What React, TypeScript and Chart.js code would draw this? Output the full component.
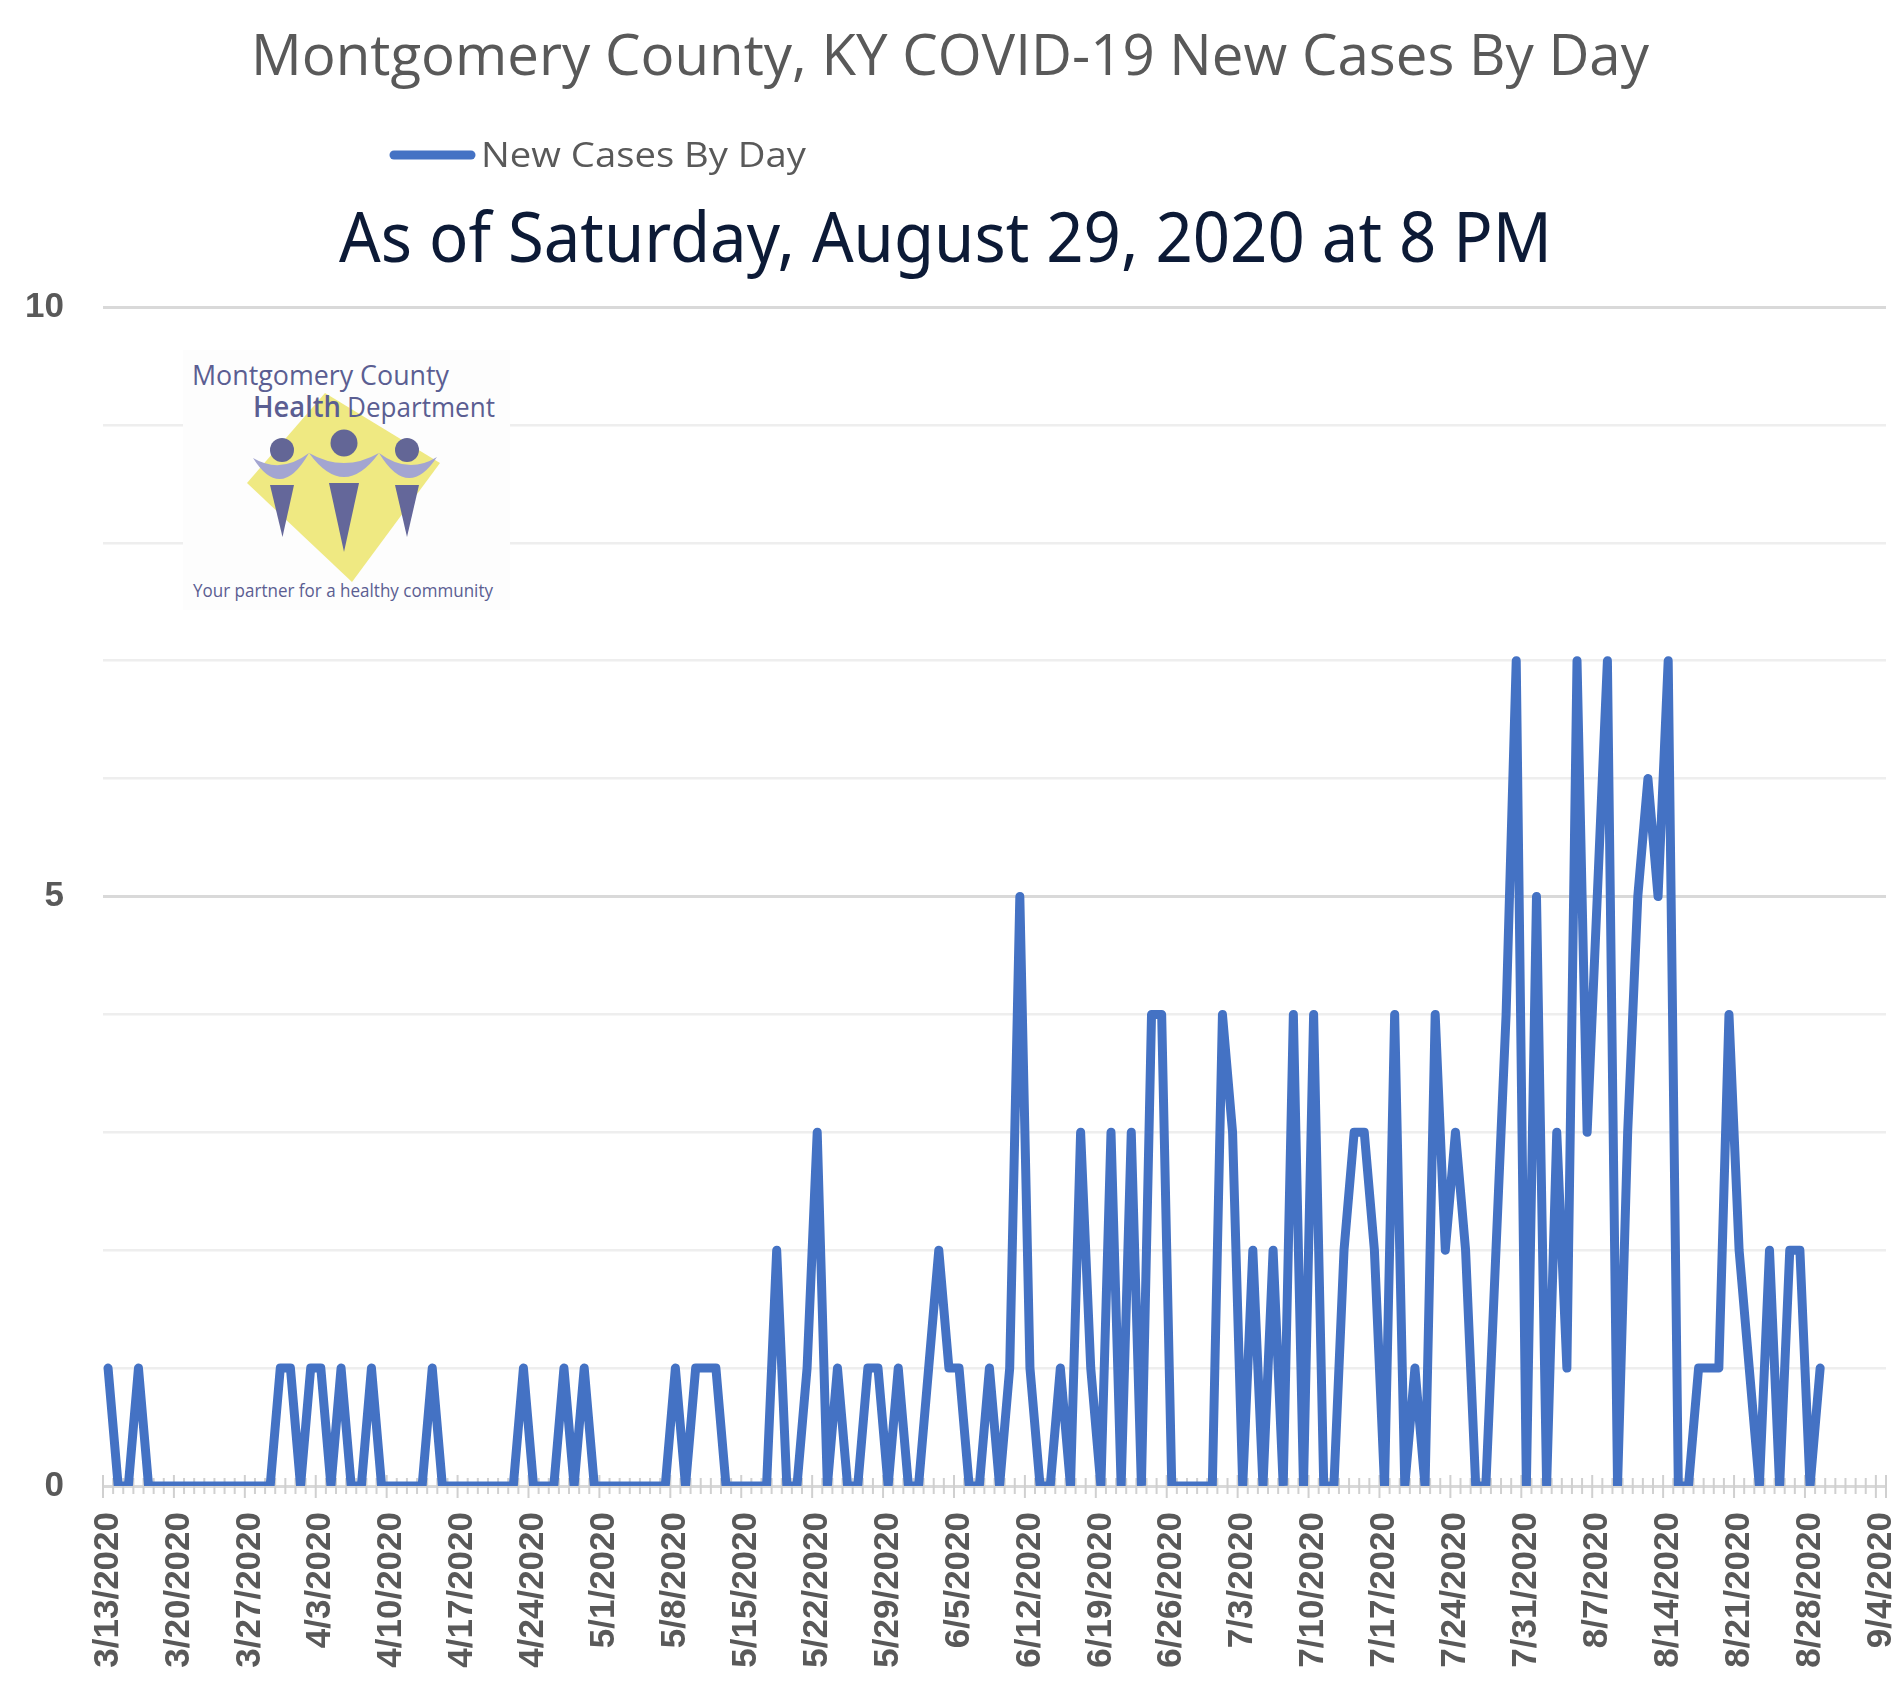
import { useEffect, useRef } from "react";
import { Chart, registerables } from "chart.js";
import type { Plugin } from "chart.js";

Chart.register(...registerables);

// one category per day, 3/13/2020 through 9/4/2020
const dayCount = 176;

const weekLabels = [
  "3/13/2020", "3/20/2020", "3/27/2020", "4/3/2020", "4/10/2020", "4/17/2020",
  "4/24/2020", "5/1/2020", "5/8/2020", "5/15/2020", "5/22/2020", "5/29/2020",
  "6/5/2020", "6/12/2020", "6/19/2020", "6/26/2020", "7/3/2020", "7/10/2020",
  "7/17/2020", "7/24/2020", "7/31/2020", "8/7/2020", "8/14/2020", "8/21/2020",
  "8/28/2020", "9/4/2020",
];

// new cases per day, 3/13/2020 .. 8/29/2020
const newCases = [
  1, 0, 0, 1, 0, 0, 0, 0, 0, 0,
  0, 0, 0, 0, 0, 0, 0, 1, 1, 0,
  1, 1, 0, 1, 0, 0, 1, 0, 0, 0,
  0, 0, 1, 0, 0, 0, 0, 0, 0, 0,
  0, 1, 0, 0, 0, 1, 0, 1, 0, 0,
  0, 0, 0, 0, 0, 0, 1, 0, 1, 1,
  1, 0, 0, 0, 0, 0, 2, 0, 0, 1,
  3, 0, 1, 0, 0, 1, 1, 0, 1, 0,
  0, 1, 2, 1, 1, 0, 0, 1, 0, 1,
  5, 1, 0, 0, 1, 0, 3, 1, 0, 3,
  0, 3, 0, 4, 4, 0, 0, 0, 0, 0,
  4, 3, 0, 2, 0, 2, 0, 4, 0, 4,
  0, 0, 2, 3, 3, 2, 0, 4, 0, 1,
  0, 4, 2, 3, 2, 0, 0, 2, 4, 7,
  0, 5, 0, 3, 1, 7, 3, 5, 7, 0,
  3, 5, 6, 5, 7, 0, 0, 1, 1, 1,
  4, 2, 1, 0, 2, 0, 2, 2, 0, 1,
];

const days = Array.from({ length: dayCount }, (_, i) => {
  const d = new Date(Date.UTC(2020, 2, 13 + i));
  return `${d.getUTCMonth() + 1}/${d.getUTCDate()}/${d.getUTCFullYear()}`;
});

const series = days.map((_, i) => (i < newCases.length ? newCases[i] : null));

const BLUE = "#4472c4";
const GREY_TEXT = "#595959";

// small day ticks crossing the date axis, longer ones each week
const dayTicks: Plugin<"line"> = {
  id: "dayTicks",
  beforeDatasetsDraw(chart) {
    const { ctx, scales } = chart;
    const x = scales.x;
    const base = scales.y.getPixelForValue(0);
    const step = (x.right - x.left) / dayCount;
    ctx.save();
    ctx.strokeStyle = "#d0d0d0";
    ctx.lineWidth = 2;
    for (let i = 0; i <= dayCount; i++) {
      const px = x.left + i * step;
      const major = i % 7 === 0 || i === dayCount;
      ctx.beginPath();
      ctx.moveTo(px, base - (major ? 11 : 8));
      ctx.lineTo(px, base + (major ? 12 : 8));
      ctx.stroke();
    }
    ctx.restore();
  },
};

function Logo() {
  const ink = "#5b5e92";
  return (
    <svg
      width={327}
      height={260}
      style={{ position: "absolute", left: 183, top: 350, background: "#fdfdfd" }}
    >
      <polygon points="64,133 142,43 257,113 169,232" fill="#efe982" />
      <path
        d="M70,108 Q98,152.5 126,103 Q161,151 196,103 Q225,151 254,107 Q225,125 196,103 Q161,123 126,103 Q98,124.5 70,108 Z"
        fill="#a3a5d1"
      />
      <circle cx={99} cy={100} r={12} fill="#636696" />
      <circle cx={161} cy={93} r={13.5} fill="#636696" />
      <circle cx={224} cy={100} r={12} fill="#636696" />
      <polygon points="87,135 111,135 99.5,187" fill="#64679a" />
      <polygon points="146,133 176,133 161,202" fill="#64679a" />
      <polygon points="212,135 236,135 224,187" fill="#64679a" />
      <g fontFamily="Open Sans" fill={ink}>
        <text x={9} y={35} fontSize={28} textLength={257} lengthAdjust="spacingAndGlyphs">
          Montgomery County
        </text>
        <text x={70} y={67} fontSize={28} fontWeight={600} textLength={88} lengthAdjust="spacingAndGlyphs">
          Health
        </text>
        <text x={164} y={67} fontSize={28} textLength={148} lengthAdjust="spacingAndGlyphs">
          Department
        </text>
        <text x={10} y={247} fontSize={18} textLength={300} lengthAdjust="spacingAndGlyphs">
          Your partner for a healthy community
        </text>
      </g>
    </svg>
  );
}

function Header() {
  return (
    <svg
      width={1901}
      height={290}
      style={{ position: "absolute", left: 0, top: 0 }}
    >
      <text
        x={251}
        y={75}
        fontFamily="Open Sans"
        fontSize={56}
        fill={GREY_TEXT}
        textLength={1398}
        lengthAdjust="spacingAndGlyphs"
      >
        Montgomery County, KY COVID-19 New Cases By Day
      </text>
      <line x1={394} y1={155} x2={471} y2={155} stroke={BLUE} strokeWidth={9} strokeLinecap="round" />
      <text
        x={481}
        y={167}
        fontFamily="Open Sans"
        fontSize={35}
        fill={GREY_TEXT}
        textLength={325}
        lengthAdjust="spacingAndGlyphs"
      >
        New Cases By Day
      </text>
      <text
        x={339}
        y={262}
        fontFamily="Noto Sans"
        fontSize={70}
        fill="#0c1a36"
        textLength={1213}
        lengthAdjust="spacingAndGlyphs"
      >
        As of Saturday, August 29, 2020 at 8 PM
      </text>
    </svg>
  );
}

export default function App() {
  const chartRef = useRef<HTMLCanvasElement>(null);
  const chartInstance = useRef<Chart | null>(null);

  useEffect(() => {
    if (!chartRef.current) return;
    const ctx = chartRef.current.getContext("2d");
    if (!ctx) return;

    if (chartInstance.current) {
      chartInstance.current.destroy();
    }

    const tickFont = { family: "Liberation Sans", size: 35, weight: "bold" as const };

    chartInstance.current = new Chart(ctx, {
      type: "line",
      data: {
        labels: days,
        datasets: [
          {
            label: "New Cases By Day",
            data: series,
            borderColor: BLUE,
            backgroundColor: BLUE,
            borderWidth: 9,
            pointRadius: 0,
            tension: 0,
            borderJoinStyle: "round",
            borderCapStyle: "round",
          },
        ],
      },
      options: {
        responsive: true,
        maintainAspectRatio: false,
        animation: false,
        layout: { padding: { top: 307, right: 15, bottom: 15, left: 0 } },
        plugins: {
          legend: { display: false },
          tooltip: { enabled: false },
        },
        scales: {
          x: {
            type: "category",
            offset: true,
            grid: { display: false, drawTicks: false },
            border: { display: false },
            ticks: {
              autoSkip: false,
              minRotation: 90,
              maxRotation: 90,
              padding: 26,
              color: GREY_TEXT,
              font: tickFont,
              callback: (_v, i) => (i % 7 === 0 ? weekLabels[i / 7] : ""),
            },
            afterFit: (scale) => {
              scale.height = 190;
              scale.paddingLeft = 0;
              scale.paddingRight = 0;
            },
          },
          y: {
            min: 0,
            max: 10,
            grid: {
              drawTicks: false,
              color: (c) => (c.tick.value % 5 === 0 ? "#d9d9d9" : "#eeeeee"),
              lineWidth: (c) => (c.tick.value % 5 === 0 ? 3 : 2.5),
            },
            border: { display: false },
            ticks: {
              stepSize: 1,
              padding: 39,
              color: GREY_TEXT,
              font: tickFont,
              callback: (v) => (Number(v) % 5 === 0 ? String(v) : ""),
            },
            afterFit: (scale) => {
              scale.width = 103;
              scale.paddingTop = 0;
              scale.paddingBottom = 0;
            },
          },
        },
      },
      plugins: [dayTicks],
    });

    return () => {
      if (chartInstance.current) {
        chartInstance.current.destroy();
        chartInstance.current = null;
      }
    };
  }, []);

  return (
    <div style={{ position: "relative", width: 1901, height: 1691, background: "#fff" }}>
      <style>{"body{margin:0}"}</style>
      <div style={{ position: "absolute", left: 0, top: 0, width: 1901, height: 1691 }}>
        <canvas ref={chartRef}></canvas>
      </div>
      <Header />
      <Logo />
    </div>
  );
}
